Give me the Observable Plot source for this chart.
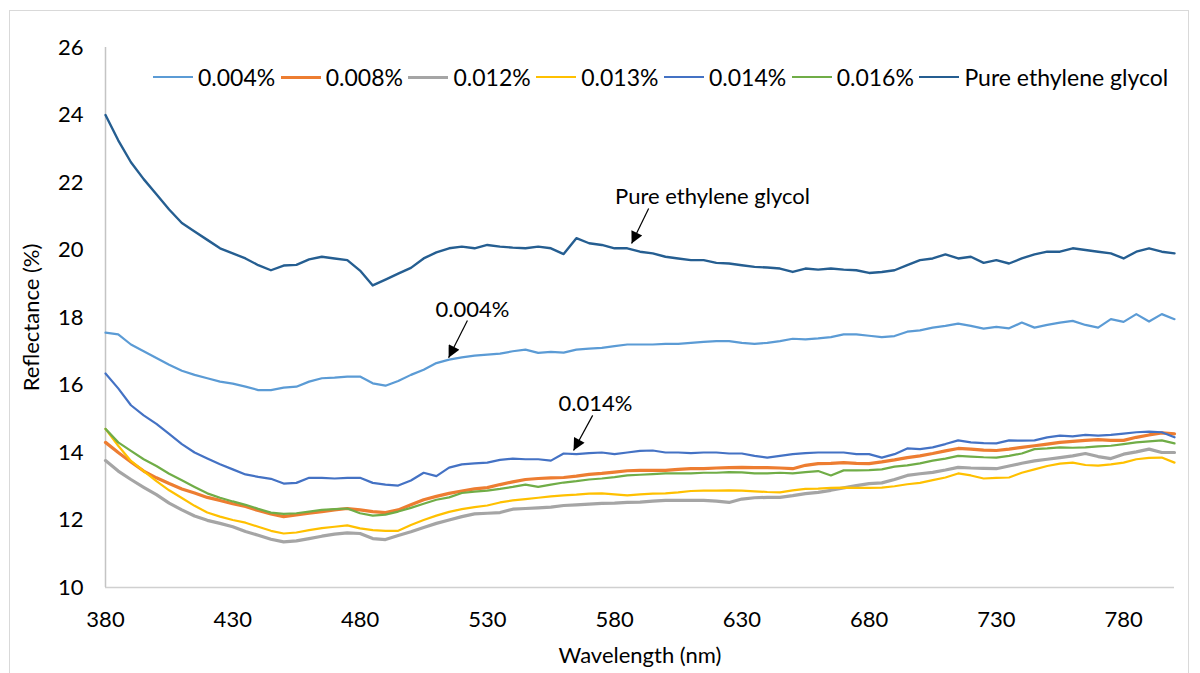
<!DOCTYPE html>
<html><head><meta charset="utf-8">
<script src="https://cdn.jsdelivr.net/npm/d3@7"></script>
<script src="https://cdn.jsdelivr.net/npm/@observablehq/plot@0.6"></script>
<style>
body{margin:0;background:#fff;font-family:Lato,"Open Sans",sans-serif;}
#wrap{position:relative;width:1200px;height:673px;overflow:hidden;}
#border{position:absolute;left:9px;top:10px;width:1180px;height:700px;border:1px solid #d9d9d9;box-sizing:border-box;}
#chart{position:absolute;left:0;top:0;}
#legend{position:absolute;top:63px;left:153px;display:flex;align-items:center;font-size:23px;color:#000;white-space:nowrap;line-height:28px;}
.item{display:flex;align-items:center;margin-right:5.5px;}
.sw{width:40px;margin-right:5px;}
</style></head>
<body><div id="wrap"><div id="border"></div><div id="chart"></div><div id="legend"></div></div>
<script>
const wavelength = [380,385,390,395,400,405,410,415,420,425,430,435,440,445,450,455,460,465,470,475,480,485,490,495,500,505,510,515,520,525,530,535,540,545,550,555,560,565,570,575,580,585,590,595,600,605,610,615,620,625,630,635,640,645,650,655,660,665,670,675,680,685,690,695,700,705,710,715,720,725,730,735,740,745,750,755,760,765,770,775,780,785,790,795,800];

const r004 = [17.55,17.5,17.2,17.0,16.8,16.6,16.42,16.3,16.2,16.1,
16.04,15.95,15.85,15.85,15.92,15.95,16.1,16.2,16.22,16.25,
16.25,16.05,15.98,16.12,16.3,16.45,16.65,16.75,16.82,16.87,
16.9,16.93,17.0,17.05,16.95,16.98,16.96,17.05,17.08,17.1,
17.15,17.2,17.2,17.2,17.22,17.22,17.25,17.28,17.3,17.3,
17.25,17.22,17.25,17.3,17.37,17.35,17.38,17.42,17.5,17.5,
17.46,17.42,17.45,17.58,17.62,17.7,17.75,17.82,17.75,17.67,
17.72,17.68,17.85,17.7,17.78,17.85,17.9,17.78,17.7,17.95,
17.87,18.1,17.88,18.1,17.95];

const r008 = [14.3,14.0,13.72,13.45,13.25,13.08,12.92,12.8,12.67,12.58,
12.48,12.4,12.28,12.18,12.1,12.15,12.2,12.25,12.3,12.34,
12.3,12.25,12.22,12.3,12.45,12.6,12.7,12.79,12.86,12.92,
12.96,13.05,13.13,13.2,13.23,13.25,13.26,13.3,13.35,13.38,
13.42,13.46,13.47,13.47,13.47,13.5,13.52,13.52,13.54,13.55,
13.56,13.55,13.55,13.54,13.52,13.62,13.67,13.68,13.7,13.68,
13.67,13.72,13.78,13.85,13.9,13.97,14.05,14.12,14.1,14.07,
14.06,14.1,14.15,14.2,14.25,14.3,14.33,14.36,14.38,14.36,
14.36,14.45,14.52,14.58,14.55];

const r012 = [13.76,13.45,13.2,12.97,12.75,12.5,12.3,12.12,11.99,11.9,
11.8,11.66,11.55,11.43,11.35,11.38,11.45,11.52,11.58,11.62,
11.6,11.45,11.42,11.54,11.65,11.78,11.9,12.0,12.1,12.18,
12.2,12.22,12.32,12.34,12.36,12.38,12.43,12.45,12.47,12.49,
12.5,12.52,12.53,12.56,12.58,12.58,12.58,12.58,12.56,12.52,
12.62,12.66,12.67,12.67,12.72,12.78,12.82,12.88,12.95,13.02,
13.08,13.1,13.2,13.32,13.37,13.41,13.48,13.56,13.54,13.53,
13.52,13.6,13.68,13.75,13.8,13.85,13.9,13.97,13.88,13.82,
13.95,14.02,14.1,14.0,14.0];

const r013 = [14.7,14.2,13.75,13.45,13.15,12.88,12.65,12.42,12.22,12.1,
12.0,11.92,11.8,11.68,11.6,11.63,11.7,11.76,11.8,11.84,
11.75,11.7,11.68,11.68,11.85,12.0,12.13,12.24,12.32,12.38,
12.43,12.52,12.58,12.62,12.66,12.7,12.73,12.75,12.78,12.79,
12.76,12.73,12.76,12.78,12.79,12.82,12.86,12.87,12.87,12.88,
12.87,12.85,12.83,12.82,12.88,12.92,12.93,12.95,12.96,12.95,
12.95,12.96,13.0,13.06,13.1,13.18,13.26,13.38,13.32,13.23,
13.25,13.26,13.4,13.5,13.6,13.67,13.7,13.63,13.61,13.65,
13.7,13.8,13.84,13.85,13.7];

const r014 = [16.34,15.9,15.4,15.1,14.85,14.55,14.25,14.0,13.82,13.65,
13.5,13.35,13.28,13.22,13.08,13.1,13.25,13.25,13.23,13.25,
13.25,13.1,13.05,13.02,13.17,13.4,13.3,13.55,13.65,13.68,
13.7,13.78,13.82,13.8,13.8,13.76,13.97,13.95,13.98,14.0,
13.95,14.0,14.05,14.06,14.0,14.0,13.98,14.0,14.0,13.97,
13.97,13.9,13.85,13.9,13.95,13.98,14.0,14.0,14.0,13.95,
13.95,13.85,13.95,14.12,14.1,14.15,14.25,14.36,14.3,14.28,
14.27,14.36,14.35,14.36,14.45,14.5,14.48,14.52,14.5,14.52,
14.56,14.6,14.62,14.6,14.45];

const r016 = [14.7,14.3,14.05,13.8,13.6,13.37,13.18,12.98,12.79,12.66,
12.55,12.45,12.33,12.22,12.18,12.2,12.25,12.3,12.32,12.34,
12.2,12.13,12.16,12.25,12.36,12.48,12.6,12.67,12.8,12.84,
12.87,12.92,12.98,13.05,12.98,13.05,13.11,13.15,13.2,13.23,
13.27,13.32,13.34,13.36,13.38,13.38,13.38,13.4,13.4,13.42,
13.41,13.38,13.38,13.4,13.38,13.42,13.45,13.32,13.47,13.47,
13.48,13.5,13.58,13.62,13.68,13.76,13.82,13.9,13.88,13.86,
13.85,13.9,13.97,14.1,14.12,14.15,14.14,14.15,14.18,14.2,
14.25,14.3,14.33,14.36,14.27];

const rPure = [24.0,23.25,22.6,22.1,21.65,21.2,20.8,20.55,20.3,20.05,
19.9,19.75,19.55,19.4,19.54,19.56,19.72,19.8,19.75,19.7,
19.39,18.95,19.12,19.3,19.47,19.75,19.93,20.05,20.1,20.05,
20.15,20.1,20.07,20.05,20.1,20.05,19.88,20.35,20.2,20.15,
20.05,20.05,19.95,19.9,19.8,19.75,19.7,19.7,19.62,19.6,
19.55,19.5,19.48,19.45,19.35,19.45,19.42,19.45,19.42,19.4,
19.32,19.35,19.4,19.55,19.7,19.75,19.87,19.75,19.8,19.62,
19.7,19.6,19.75,19.87,19.95,19.95,20.05,20.0,19.95,19.9,
19.75,19.95,20.05,19.95,19.9];

const seriesNames = ["0.004%","0.008%","0.012%","0.013%","0.014%","0.016%","Pure ethylene glycol"];
const seriesValues = [r004, r008, r012, r013, r014, r016, rPure];
const seriesColors = ["#5B9BD5","#ED7D31","#A5A5A5","#FFC000","#4472C4","#70AD47","#255E91"];
const seriesWidths = [2.2, 3.2, 3.2, 2.2, 2.2, 2.2, 2.4];

const xTicks = [380,430,480,530,580,630,680,730,780];
const yTicks = [10,12,14,16,18,20,22,24,26];

// annotation labels and arrows (data coordinates)
const annLabels = ["Pure ethylene glycol","0.004%","0.014%"];
const annTextX = [618.5, 524.2, 572.5];
const annTextY = [21.56, 18.21, 15.45];
const annFromX = [593.4, 522.2, 571.4];
const annFromY = [21.23, 17.91, 15.10];
const annToX = [586.7, 514.8, 563.9];
const annToY = [20.19, 16.81, 14.06];

const annotations = annLabels.map((t,i)=>({label:t, tx:annTextX[i], ty:annTextY[i], x1:annFromX[i], y1:annFromY[i], x2:annToX[i], y2:annToY[i]}));

const lineMarks = seriesNames.map((name,k)=>{
  const d = wavelength.map((w,i)=>({wl:w, r:seriesValues[k][i]}));
  return Plot.line(d,{x:"wl", y:"r", stroke:seriesColors[k], strokeWidth:seriesWidths[k], strokeLinejoin:"round"});
});

const chart = Plot.plot({
  width:1200, height:673,
  marginLeft:105, marginRight:26, marginTop:47, marginBottom:86,
  style:{fontFamily:"Lato, 'Open Sans', sans-serif", fontSize:"22px", color:"#000", background:"transparent", overflow:"visible"},
  x:{domain:[380,800]},
  y:{domain:[10,26]},
  marks:[
    Plot.ruleY([10],{stroke:"#d0d0d0", strokeWidth:1.5}),
    Plot.ruleX([380],{stroke:"#c4c4c4", strokeWidth:1.5}),
    Plot.axisX({ticks:xTicks, tickSize:0, tickPadding:24, label:"Wavelength (nm)", labelAnchor:"center", labelArrow:"none", labelOffset:75, fontSize:22}),
    Plot.axisY({ticks:yTicks, tickSize:0, tickPadding:22, label:"Reflectance (%)", labelAnchor:"center", labelArrow:"none", labelOffset:82, fontSize:22}),
    ...lineMarks,
    Plot.link(annotations,{x1:"x1", y1:"y1", x2:"x2", y2:"y2", stroke:"#000", strokeWidth:1.2}),
    Plot.text(annotations,{x:"tx", y:"ty", text:"label", fontSize:22, fill:"#000"})
  ]
});

// filled arrowheads
const ns = "http://www.w3.org/2000/svg";
const defs = document.createElementNS(ns,"defs");
const marker = document.createElementNS(ns,"marker");
marker.setAttribute("id","tri");
marker.setAttribute("viewBox","0 0 10 10");
marker.setAttribute("refX","10");
marker.setAttribute("refY","5");
marker.setAttribute("markerWidth","14");
marker.setAttribute("markerHeight","12");
marker.setAttribute("markerUnits","userSpaceOnUse");
marker.setAttribute("orient","auto");
const tri = document.createElementNS(ns,"path");
tri.setAttribute("d","M0,0L10,5L0,10Z");
tri.setAttribute("fill","#000");
marker.appendChild(tri);
defs.appendChild(marker);
chart.prepend(defs);
chart.querySelectorAll('g[aria-label="link"] path, g[aria-label="link"] line').forEach(p=>p.setAttribute("marker-end","url(#tri)"));

document.getElementById("chart").appendChild(chart);

// legend
const legend = document.getElementById("legend");
seriesNames.forEach((name,k)=>{
  const item = document.createElement("div");
  item.className = "item";
  const sw = document.createElement("div");
  sw.className = "sw";
  sw.style.borderTop = seriesWidths[k] + "px solid " + seriesColors[k];
  const t = document.createElement("span");
  t.textContent = name;
  item.appendChild(sw); item.appendChild(t);
  legend.appendChild(item);
});
</script></body></html>
